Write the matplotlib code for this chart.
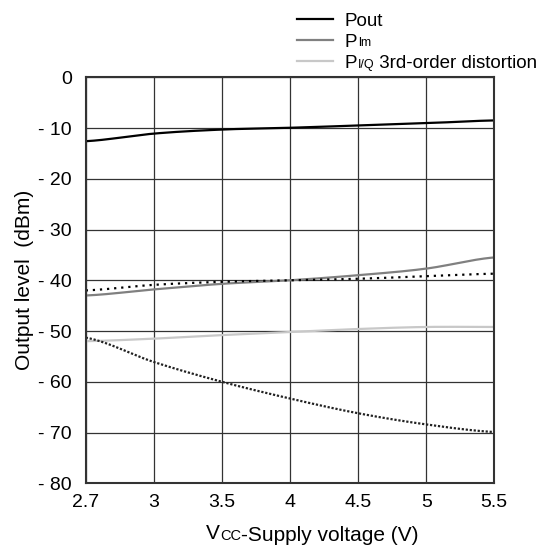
import matplotlib
matplotlib.use("Agg")
import matplotlib.pyplot as plt
import numpy as np

plt.rcParams['font.family'] = ['Liberation Sans', 'DejaVu Sans']

x_labels = ["2.7", "3", "3.5", "4", "4.5", "5", "5.5"]
pout = [-12.6, -11.1, -10.3, -9.95, -9.5, -9.05, -8.5]
plm = [-43.0, -41.8, -40.7, -40.0, -39.0, -37.7, -35.5]
piq = [-52.0, -51.5, -50.8, -50.2, -49.6, -49.2, -49.2]
dotted_upper = [-42.0, -40.9, -40.3, -40.0, -39.7, -39.2, -38.7]
dotted_lower = [-51.3, -56.1, -60.0, -63.3, -66.2, -68.4, -69.9]
y_ticks = [0, -10, -20, -30, -40, -50, -60, -70, -80]
y_tick_labels = ["0", "- 10", "- 20", "- 30", "- 40", "- 50", "- 60", "- 70", "- 80"]

fig = plt.figure(figsize=(5.57, 5.5), dpi=100)
ax = fig.add_axes([0.1539, 0.1213, 0.7335, 0.7382])

xi = np.arange(len(x_labels))

def smooth(xs, ys, n=200):
    xs = np.asarray(xs, float); ys = np.asarray(ys, float)
    xx = np.linspace(xs[0], xs[-1], n)
    out = []
    for t in xx:
        i = min(int(np.floor(t)), len(xs) - 2)
        u = t - xs[i]
        p0 = ys[max(i - 1, 0)]; p1 = ys[i]; p2 = ys[i + 1]; p3 = ys[min(i + 2, len(ys) - 1)]
        out.append(0.5 * ((2 * p1) + (-p0 + p2) * u + (2 * p0 - 5 * p1 + 4 * p2 - p3) * u ** 2
                          + (-p0 + 3 * p1 - 3 * p2 + p3) * u ** 3))
    return xx, np.array(out)

h1, = ax.plot(*smooth(xi, pout), color="black", lw=1.6, label="Pout")
h2, = ax.plot(*smooth(xi, plm), color="#808080", lw=1.6, label="P")
h3, = ax.plot(*smooth(xi, piq), color="#c8c8c8", lw=1.6, label="P")
ax.plot(*smooth(xi, dotted_upper), color="black", lw=1.6, ls=(0, (1, 2.2)))
ax.plot(*smooth(xi, dotted_lower), color="#222222", lw=1.6, ls=(0, (1, 0.8)))

ax.set_xlim(0, len(x_labels) - 1)
ax.set_ylim(-80, 0)
ax.set_xticks(xi)
ax.set_xticklabels(x_labels, fontsize=14)
ax.set_yticks(y_ticks)
ax.set_yticklabels(y_tick_labels, fontsize=14)
ax.tick_params(axis="both", length=0)
ax.tick_params(axis="y", pad=10)
ax.tick_params(axis="x", pad=8)
ax.grid(True, color="#333333", lw=0.9)
ax.set_axisbelow(True)
for s in ax.spines.values():
    s.set_linewidth(1.5)
    s.set_color("#333333")

# x-axis label with small "CC"
t_v = fig.text(206 / 557, 1 - 539 / 550, "V", fontsize=15, ha="left", va="baseline")
t_cc = ax.annotate("CC", xy=(1, 0), xycoords=t_v, fontsize=10.5, ha="left", va="bottom",
                   zorder=10, annotation_clip=False)
ax.annotate("-Supply voltage (V)", xy=(1, 0), xycoords=t_cc, fontsize=15, ha="left",
            va="bottom", xytext=(0, -1.3), textcoords="offset points", zorder=10,
            annotation_clip=False)

ax.set_ylabel("Output level  (dBm)", fontsize=15, labelpad=3)

leg = ax.legend(handles=[h1, h2, h3], loc="lower left", bbox_to_anchor=(297 / 557, 1 - 72 / 550),
                bbox_transform=fig.transFigure, frameon=False, fontsize=13.5,
                handlelength=1.9, handletextpad=0.65, labelspacing=0.22, borderpad=0,
                borderaxespad=0)
leg.set_zorder(5)
texts = leg.get_texts()
ax.annotate("lm", xy=(1, 0), xycoords=texts[1], fontsize=9, ha="left", va="bottom",
            xytext=(0.3, 1.0), textcoords="offset points", zorder=10, annotation_clip=False)
a = ax.annotate("I/Q", xy=(1, 0), xycoords=texts[2], fontsize=9, ha="left", va="bottom",
                xytext=(0.3, 1.0), textcoords="offset points", zorder=10, annotation_clip=False)
ax.annotate(" 3rd-order distortion", xy=(1, 0), xycoords=a, fontsize=13.5, ha="left",
            va="bottom", xytext=(0, -1.0), textcoords="offset points", zorder=11,
            annotation_clip=False)

fig.savefig("out.png", dpi=100)
